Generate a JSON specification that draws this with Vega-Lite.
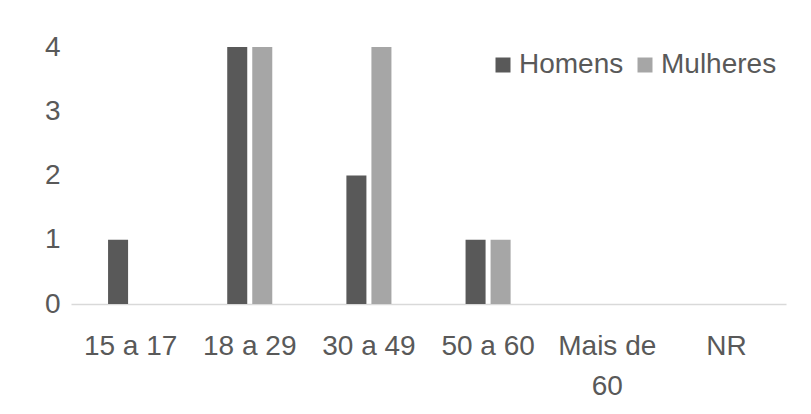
{
  "$schema": "https://vega.github.io/schema/vega-lite/v6.json",
  "width": 715,
  "height": 257,
  "autosize": {"type": "none"},
  "padding": {"left": 71, "top": 47, "right": 25, "bottom": 110},
  "background": "white",
  "data": {
    "values": [
      {"faixa": "15 a 17", "sexo": "Homens", "valor": 1},
      {"faixa": "15 a 17", "sexo": "Mulheres", "valor": 0},
      {"faixa": "18 a 29", "sexo": "Homens", "valor": 4},
      {"faixa": "18 a 29", "sexo": "Mulheres", "valor": 4},
      {"faixa": "30 a 49", "sexo": "Homens", "valor": 2},
      {"faixa": "30 a 49", "sexo": "Mulheres", "valor": 4},
      {"faixa": "50 a 60", "sexo": "Homens", "valor": 1},
      {"faixa": "50 a 60", "sexo": "Mulheres", "valor": 1},
      {"faixa": "Mais de 60", "sexo": "Homens", "valor": 0},
      {"faixa": "Mais de 60", "sexo": "Mulheres", "valor": 0},
      {"faixa": "NR", "sexo": "Homens", "valor": 0},
      {"faixa": "NR", "sexo": "Mulheres", "valor": 0}
    ]
  },
  "mark": {"type": "bar"},
  "encoding": {
    "x": {
      "field": "faixa",
      "type": "nominal",
      "sort": ["15 a 17", "18 a 29", "30 a 49", "50 a 60", "Mais de 60", "NR"],
      "scale": {"paddingInner": 0.622, "paddingOuter": 0.311},
      "axis": {
        "title": null,
        "labelAngle": 0,
        "ticks": false,
        "tickSize": 0,
        "labelPadding": 28,
        "labelFontSize": 28,
        "labelFont": "Liberation Sans",
        "labelColor": "#595959",
        "labelLineHeight": 40,
        "labelExpr": "datum.label == 'Mais de 60' ? ['Mais de', '60'] : datum.label",
        "domainColor": "#d9d9d9",
        "domainWidth": 1.5,
        "grid": false
      }
    },
    "xOffset": {
      "field": "sexo",
      "type": "nominal",
      "scale": {"paddingInner": 0.2, "paddingOuter": 0}
    },
    "y": {
      "field": "valor",
      "type": "quantitative",
      "scale": {"domain": [0, 4], "nice": false},
      "axis": {
        "title": null,
        "values": [0, 1, 2, 3, 4],
        "ticks": false,
        "tickSize": 0,
        "domain": false,
        "grid": false,
        "labelPadding": 11,
        "labelFontSize": 28,
        "labelFont": "Liberation Sans",
        "labelColor": "#595959"
      }
    },
    "color": {
      "field": "sexo",
      "type": "nominal",
      "scale": {"domain": ["Homens", "Mulheres"], "range": ["#595959", "#a6a6a6"]},
      "legend": {
        "title": null,
        "orient": "none",
        "legendX": 418,
        "legendY": 4,
        "direction": "horizontal",
        "columns": 2,
        "padding": 0,
        "symbolType": "square",
        "symbolSize": 225,
        "symbolStrokeWidth": 0,
        "labelFontSize": 28,
        "labelFont": "Liberation Sans",
        "labelColor": "#595959",
        "labelOffset": 2,
        "columnPadding": 7
      }
    }
  },
  "config": {
    "view": {"stroke": null}
  }
}
